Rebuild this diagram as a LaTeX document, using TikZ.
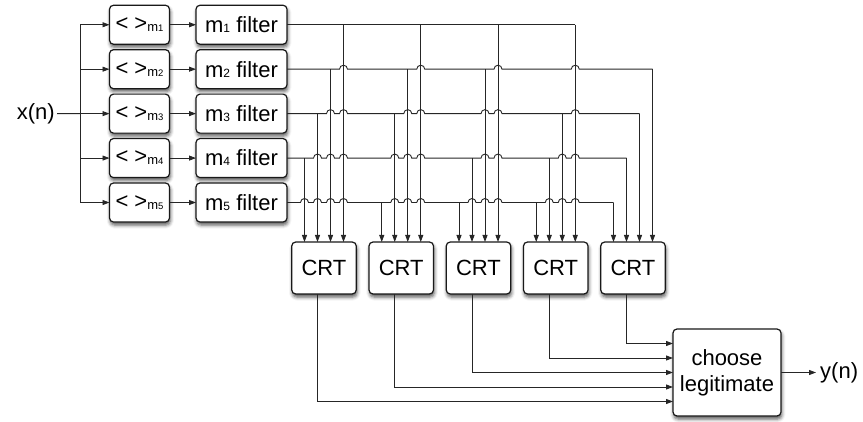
\documentclass[tikz,border=0pt]{standalone}
\usepackage{fontspec}
\setmainfont{Liberation Sans}
\usetikzlibrary{arrows.meta,calc,shadows.blur}

% label helpers: residue box "< >_m_i" and "m_i filter"
\newcommand\modlabel[1]{< >\raisebox{-1pt}{\fontsize{13}{13}\selectfont m\fontsize{9.5}{9.5}\selectfont #1}}
\newcommand\filtlabel[1]{m{\fontsize{12}{12}\selectfont #1} filter}

\begin{document}
\begin{tikzpicture}[x=1pt,y=-1pt,
  wire/.style={line width=0.9pt,draw=black!85},
  arrow/.style={wire,-{Triangle[length=7pt,width=5pt]}},
  block/.style={draw=black!90,line width=1.2pt,fill=white,rounded corners=4pt,
    blur shadow={shadow xshift=0.8pt,shadow yshift=-3pt,shadow blur radius=3.5pt,shadow opacity=65},
    inner sep=0pt,outer sep=0pt,font=\fontsize{22}{26}\selectfont,align=center},
  modbox/.style={block,minimum width=60pt,minimum height=39pt},
  filtbox/.style={block,minimum width=91pt,minimum height=39pt},
  crtbox/.style={block,minimum width=64.5pt,minimum height=52pt},
  choosebox/.style={block,minimum width=108pt,minimum height=87pt},
  lbl/.style={font=\fontsize{22}{26}\selectfont,inner sep=2pt}
]
\useasboundingbox (0,0) rectangle (863,422);

% input stage: residue and filter blocks
\foreach \i in {1,...,5} {
  \node[modbox]  (mod\i)  at (139.5,{24.75+44.44*(\i-1)}) {\modlabel{\i}};
  \node[filtbox] (filt\i) at (241.5,{24.75+44.44*(\i-1)}) {\filtlabel{\i}};
}

% CRT blocks with their four input points and one output point
\foreach \k in {1,...,5} {
  \node[crtbox] (crt\k) at ({324+77.25*(\k-1)},268) {CRT};
  \foreach \j/\o in {1/-19.5,2/-6.5,3/6.5,4/19.5}
    \coordinate (crt\k-in\j) at ($(crt\k.north)+(\o,0)$);
  \coordinate (crt\k-out) at ($(crt\k.south)+(-6.5,0)$);
}

\node[choosebox] (choose) at (727,372.5) {choose\\legitimate};

\node[lbl,anchor=east] (xn) at (57,113.6) {x(n)};
\node[lbl,anchor=west,inner sep=4pt] (yn) at (816,372.5) {y(n)};

% input bus
\coordinate (bus) at ($(mod3.west)+(-29.5,0)$);
\draw[wire] (xn.east) -- (bus);
\draw[wire] (bus |- mod1.west) -- (bus |- mod5.west);
\foreach \i in {1,...,5} {
  \draw[arrow] (bus |- mod\i.west) -- (mod\i.west);
  \draw[arrow] (mod\i.east) -- (filt\i.west);
}

% filter outputs running right, hopping over the drops of the rows above
\draw[wire] (filt1.east) -- (crt4-in4 |- filt1.east);
\draw[wire] (filt2.east)
  foreach \c in {crt1-in4,crt2-in4,crt3-in4,crt4-in4}
    { -- ($(\c |- filt2.east)+(-4,0)$) arc[start angle=180,end angle=0,radius=4pt] }
  -- (crt5-in4 |- filt2.east);
\draw[wire] (filt3.east)
  foreach \c in {crt1-in3,crt1-in4,crt2-in3,crt2-in4,crt3-in3,crt3-in4,crt4-in4}
    { -- ($(\c |- filt3.east)+(-4,0)$) arc[start angle=180,end angle=0,radius=4pt] }
  -- (crt5-in3 |- filt3.east);
\draw[wire] (filt4.east)
  foreach \c in {crt1-in2,crt1-in3,crt1-in4,crt2-in2,crt2-in3,crt2-in4,crt3-in3,crt3-in4,crt4-in3,crt4-in4}
    { -- ($(\c |- filt4.east)+(-4,0)$) arc[start angle=180,end angle=0,radius=4pt] }
  -- (crt5-in2 |- filt4.east);
\draw[wire] (filt5.east)
  foreach \c in {crt1-in1,crt1-in2,crt1-in3,crt1-in4,crt2-in2,crt2-in3,crt2-in4,crt3-in2,crt3-in3,crt3-in4,crt4-in2,crt4-in3,crt4-in4}
    { -- ($(\c |- filt5.east)+(-4,0)$) arc[start angle=180,end angle=0,radius=4pt] }
  -- (crt5-in1 |- filt5.east);

% drops into the CRT blocks (CRT k leaves out filter 6-k)
\foreach \k/\j/\r in {1/1/4,1/2/3,1/3/2,1/4/1,
                      2/1/5,2/2/3,2/3/2,2/4/1,
                      3/1/5,3/2/4,3/3/2,3/4/1,
                      4/1/5,4/2/4,4/3/3,4/4/1,
                      5/1/5,5/2/4,5/3/3,5/4/2}
  \draw[arrow] (crt\k-in\j |- filt\r.east) -- (crt\k-in\j);

% CRT results into the selector
\foreach \k/\o in {1/29,2/14.5,3/0,4/-14.5,5/-29}
  \draw[arrow] (crt\k-out) |- ($(choose.west)+(0,\o)$);

\draw[arrow] (choose.east) -- (yn.west);
\end{tikzpicture}
\end{document}
